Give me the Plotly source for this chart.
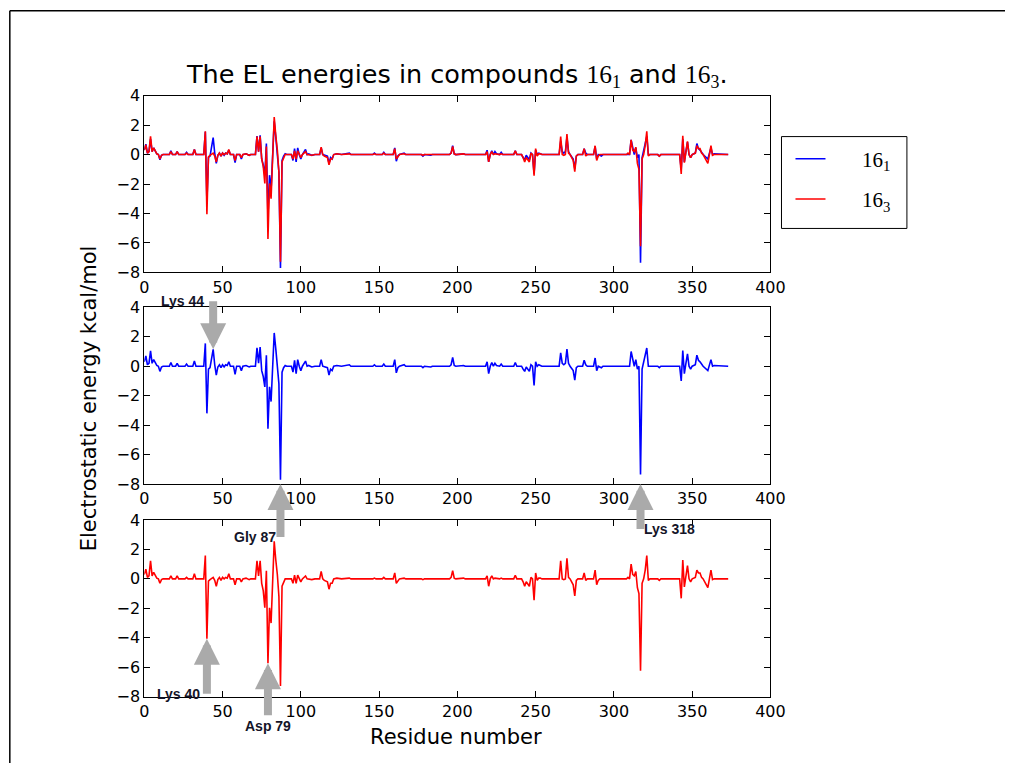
import plotly.graph_objects as go

# ---------------- data (residue index, EL energy kcal/mol) ----------------
SERIES_161 = [
    (0, 0.3), (1, 0.7), (2, 0.1), (3, 0.2), (4, 1.05), (5, 0.2), (6, 0.45), (7, 0.2), (8, 0.05), (9, 0.0),
    (10, -0.35), (11, -0.05), (12, 0.0), (16, 0.0), (17, 0.25), (18, 0.0), (20, 0.0), (21, 0.2), (22, 0.0),
    (26, 0.0), (27, 0.15), (28, 0.0), (31, 0.0), (32, 0.35), (33, 0.0), (38, 0.0), (39, 1.55), (40, -3.2),
    (41, -0.2), (42, -0.1), (44, 1.15), (45, 0.1), (46, -0.6), (47, -0.05), (48, 0.1), (49, -0.1), (50, 0.1),
    (51, -0.05), (52, 0.1), (53, 0.05), (54, 0.3), (55, 0.0), (57, 0.0), (58, -0.55), (59, 0.0), (61, 0.0),
    (62, -0.3), (63, 0.0), (65, 0.05), (67, -0.05), (68, 0.0), (71, 0.0), (72, 1.25), (73, 0.2), (74, 1.3),
    (75, -0.3), (76, -0.7), (77, -1.4), (78, 0.75), (79, -4.25), (80, -1.4), (81, -2.4), (82, -0.1),
    (83, 2.26), (84, 1.2), (85, 0.2), (86, -1.2), (87, -7.7), (88, -0.4), (89, -0.1), (90, 0.05), (91, 0.0),
    (94, 0.0), (95, -0.4), (96, 0.4), (97, -0.5), (98, 0.45), (99, 0.0), (100, -0.3), (101, 0.0), (103, 0.35),
    (104, 0.0), (105, 0.05), (107, -0.05), (109, 0.0), (112, 0.0), (113, 0.45), (114, 0.0), (115, -0.05),
    (117, -0.1), (118, -0.6), (119, -0.2), (120, -0.3), (121, 0.0), (123, 0.05), (126, 0.0), (131, 0.1),
    (132, 0.0), (146, 0.0), (147, 0.1), (148, 0.0), (152, 0.0), (153, 0.15), (154, 0.0), (159, 0.0),
    (160, 0.45), (161, -0.45), (162, -0.1), (163, 0.0), (166, 0.1), (167, 0.0), (177, 0.0), (178, -0.1),
    (179, 0.0), (183, -0.05), (184, 0.0), (195, 0.0), (196, 0.1), (197, 0.6), (198, 0.05), (199, 0.0),
    (204, 0.05), (205, 0.0), (218, 0.0), (219, 0.3), (220, -0.5), (221, 0.0), (222, 0.25), (223, 0.0),
    (224, 0.2), (225, 0.05), (227, 0.0), (228, 0.15), (229, 0.0), (236, 0.0), (237, 0.25), (238, 0.0),
    (241, 0.0), (242, -0.2), (243, -0.35), (244, -0.05), (245, -0.2), (246, -0.35), (247, 0.1), (248, 0.0),
    (249, -1.3), (250, 0.3), (251, 0.0), (252, 0.1), (253, 0.05), (254, 0.0), (264, 0.0), (265, 0.0),
    (266, 0.9), (267, 0.2), (268, 0.1), (269, 0.2), (270, 1.17), (271, 0.2), (272, 0.0), (273, -0.2),
    (274, -0.3), (275, -0.95), (276, -0.1), (277, 0.0), (280, 0.0), (281, 0.4), (282, 0.1), (283, 0.0),
    (287, 0.0), (288, 0.56), (289, -0.3), (290, 0.0), (292, -0.1), (293, 0.0), (310, 0.0), (311, 1.0),
    (312, 0.4), (313, 0.0), (314, 0.45), (315, -0.2), (316, 0.0), (317, -7.35), (318, -0.2), (319, 0.3),
    (320, 0.6), (321, 1.24), (322, 0.0), (328, 0.0), (329, -0.1), (330, 0.0), (342, 0.0), (343, -1.0),
    (344, 1.06), (345, -0.5), (346, 0.2), (347, 0.84), (348, 0.0), (349, -0.2), (350, 0.0), (352, 0.1),
    (353, 0.75), (354, 0.4), (355, 0.3), (356, 0.1), (357, 0.0), (360, -0.3), (361, 0.0), (362, 0.45),
    (363, 0.0), (364, 0.05), (373, 0.0),
]

SERIES_163 = [
    (0, 0.3), (1, 0.66), (2, 0.1), (3, 0.2), (4, 1.23), (5, 0.2), (6, 0.45), (7, 0.2), (8, 0.05), (9, 0.0),
    (10, -0.3), (11, -0.05), (12, 0.0), (16, 0.0), (17, 0.2), (18, 0.0), (20, 0.0), (21, 0.2), (22, 0.0),
    (26, 0.0), (27, 0.1), (28, 0.0), (31, 0.0), (32, 0.35), (33, 0.0), (38, 0.0), (39, 1.58), (40, -4.06),
    (41, -0.15), (42, -0.05), (44, 0.1), (45, -0.1), (46, -0.5), (47, -0.05), (48, 0.1), (49, -0.1),
    (50, 0.1), (51, 0.0), (52, 0.1), (53, 0.05), (54, 0.35), (55, 0.0), (57, 0.0), (58, -0.4), (59, 0.0),
    (61, 0.0), (62, -0.2), (63, 0.0), (65, 0.05), (67, -0.05), (68, 0.0), (71, 0.0), (72, 1.23), (73, 0.2),
    (74, 1.23), (75, -0.3), (76, -0.8), (77, -1.96), (78, 0.55), (79, -5.73), (80, -1.96), (81, -3.0),
    (82, -0.1), (83, 2.55), (84, 1.3), (85, 0.3), (86, -1.2), (87, -7.28), (88, -0.5), (89, -0.2), (90, 0.0),
    (94, 0.0), (95, -0.3), (96, 0.25), (97, -0.3), (98, 0.25), (99, 0.0), (100, -0.2), (101, 0.0), (103, 0.2),
    (104, 0.0), (107, -0.05), (109, 0.0), (112, 0.0), (113, 0.5), (114, 0.0), (115, -0.1), (117, -0.2),
    (118, -0.7), (119, -0.3), (120, -0.3), (121, 0.0), (123, 0.05), (126, 0.0), (131, 0.05), (132, 0.0),
    (146, 0.0), (147, 0.05), (148, 0.0), (152, 0.0), (153, 0.1), (154, 0.0), (159, 0.0), (160, 0.4),
    (161, -0.3), (162, -0.1), (163, 0.0), (166, 0.05), (167, 0.0), (177, 0.0), (178, -0.05), (179, 0.0),
    (195, 0.0), (196, 0.1), (197, 0.55), (198, 0.05), (199, 0.0), (204, 0.05), (205, 0.0), (218, 0.0),
    (219, 0.2), (220, -0.5), (221, 0.0), (222, 0.2), (223, 0.0), (224, 0.05), (227, 0.0), (228, 0.05),
    (229, 0.0), (236, 0.0), (237, 0.25), (238, 0.0), (241, 0.0), (242, -0.2), (243, -0.5), (244, -0.2),
    (245, -0.4), (246, -0.5), (247, 0.1), (248, 0.0), (249, -1.44), (250, 0.4), (251, -0.1), (252, 0.05),
    (253, 0.05), (254, 0.0), (264, 0.0), (265, 0.0), (266, 1.23), (267, 0.0), (268, -0.05), (269, 0.0),
    (270, 1.39), (271, 0.1), (272, 0.0), (273, -0.2), (274, -0.4), (275, -1.16), (276, -0.1), (277, 0.0),
    (280, 0.0), (281, 0.4), (282, -0.1), (283, 0.0), (287, 0.0), (288, 0.6), (289, -0.4), (290, -0.1),
    (291, 0.0), (308, 0.0), (309, 0.1), (310, 0.0), (311, 1.0), (312, 0.3), (313, 0.2), (314, 0.5),
    (315, -0.6), (316, -1.0), (317, -6.23), (318, -0.3), (319, 0.0), (320, 0.6), (321, 1.58), (322, -0.1),
    (323, 0.0), (328, 0.0), (329, -0.1), (330, 0.0), (342, 0.0), (343, -1.32), (344, 1.28), (345, -0.55),
    (346, 0.1), (347, 0.9), (348, 0.0), (349, -0.2), (350, 0.0), (352, 0.1), (353, 0.6), (354, 0.4),
    (355, 0.4), (356, 0.1), (357, 0.0), (360, -0.6), (361, 0.0), (362, 0.6), (363, -0.05), (364, 0.0),
    (373, 0.0),
]

X_TICKS = [0, 50, 100, 150, 200, 250, 300, 350, 400]
Y_TICKS = [-8, -6, -4, -2, 0, 2, 4]

# annotated residues: (label, residue index, panel, series key, arrow kind)
MARKS = [
    ("Lys 44", 44, 2, "161", "down"),
    ("Gly 87", 87, 2, "161", "up_axis"),
    ("Lys 318", 317, 2, "161", "up_axis"),
    ("Lys 40", 40, 3, "163", "up"),
    ("Asp 79", 79, 3, "163", "up"),
]

res_161 = [p[0] for p in SERIES_161]
e_161 = [p[1] for p in SERIES_161]
res_163 = [p[0] for p in SERIES_163]
e_163 = [p[1] for p in SERIES_163]
lookup = {"161": dict(SERIES_161), "163": dict(SERIES_163)}

# ---------------- layout helpers ----------------
# The page shows the figure slightly inset and scaled; positions below are given in
# screen pixels of the target picture and converted to paper fractions.
W, H = 1020, 773
OX, OY, S = 5.2, 8.2, 0.977


def px(x):
    return ((x - OX) / S) / W


def py(y):
    return 1 - ((y - OY) / S) / H


X_DOM = [px(144), px(768)]
PANELS = [(95, 272), (307, 484), (520, 697)]

BLUE = "#0000ff"
RED = "#ff0000"
TICKFONT = dict(family="DejaVu Sans", size=16, color="black")
LABELFONT = dict(family="DejaVu Sans", size=21, color="black")
NB = "\u00a0"

fig = go.Figure()
fig.add_trace(go.Scatter(x=res_161, y=e_161, mode="lines", line=dict(color=BLUE, width=1.6),
                         name=NB * 6 + "16<sub>1</sub>", legendgroup="a", xaxis="x", yaxis="y"))
fig.add_trace(go.Scatter(x=res_163, y=e_163, mode="lines", line=dict(color=RED, width=1.6),
                         name=NB * 6 + "16<sub>3</sub>", legendgroup="b", xaxis="x", yaxis="y"))
fig.add_trace(go.Scatter(x=res_161, y=e_161, mode="lines", line=dict(color=BLUE, width=1.6),
                         showlegend=False, legendgroup="a", xaxis="x2", yaxis="y2"))
fig.add_trace(go.Scatter(x=res_163, y=e_163, mode="lines", line=dict(color=RED, width=1.6),
                         showlegend=False, legendgroup="b", xaxis="x3", yaxis="y3"))

axis_common = dict(ticks="inside", ticklen=6, tickcolor="black", tickwidth=1,
                   showline=True, linecolor="black", linewidth=1, mirror="ticks",
                   showgrid=False, zeroline=False, tickfont=TICKFONT)

layout_axes = {}
for i, (top, bot) in enumerate(PANELS, start=1):
    sfx = "" if i == 1 else str(i)
    layout_axes["xaxis" + sfx] = dict(axis_common, domain=X_DOM, range=[0, 400], tickvals=X_TICKS,
                                      anchor="y" + sfx)
    layout_axes["yaxis" + sfx] = dict(axis_common, domain=[py(bot), py(top)], range=[-8, 4],
                                      tickvals=Y_TICKS, anchor="x" + sfx)

CENTER = dict(xref="paper", yref="paper", showarrow=False, xanchor="center", yanchor="middle")
annotations = [
    dict(CENTER, x=px(456), y=py(75),
         text=("The EL energies in compounds "
               "<span style='font-family:Liberation Serif'>16<sub>1</sub></span> and "
               "<span style='font-family:Liberation Serif'>16<sub>3</sub></span>."),
         font=dict(family="DejaVu Sans", size=25.5, color="black")),
    dict(CENTER, x=px(455), y=py(737), text="Residue number", font=LABELFONT),
    dict(CENTER, x=px(89), y=py(398), textangle=-90, text="Electrostatic energy kcal/mol", font=LABELFONT),
]

# arrow tail offset (px) and where the label sits relative to the tail
TAIL = {"Lys 44": -48, "Gly 87": 53, "Lys 318": 45, "Lys 40": 55, "Asp 79": 52}
ANCHOR = {"Lys 44": ("right", "middle", 8), "Gly 87": ("right", "middle", 3),
          "Lys 318": ("left", "middle", 2), "Lys 40": ("right", "middle", 6),
          "Asp 79": ("center", "top", 2)}

for label, res, panel, key, kind in MARKS:
    sfx = "" if panel == 1 else str(panel)
    tip_y = -8 if kind == "up_axis" else lookup[key][res]
    xa, ya, pad = ANCHOR[label]
    annotations.append(dict(
        x=res, y=tip_y, xref="x" + sfx, yref="y" + sfx, ax=0, ay=TAIL[label], axref="pixel", ayref="pixel",
        showarrow=True, arrowhead=2, arrowsize=0.65, arrowwidth=8, arrowcolor="#aaaaaa",
        standoff=0, startstandoff=0, xanchor=xa, yanchor=ya, borderpad=pad,
        text="<b>" + label + "</b>",
        font=dict(family="Liberation Sans", size=14, color="#141428")))

shapes = [
    # figure frame (top and left edges visible)
    dict(type="line", xref="paper", yref="paper", x0=px(10), y0=py(10), x1=1.0, y1=py(10),
         line=dict(color="black", width=1.5)),
    dict(type="line", xref="paper", yref="paper", x0=px(10), y0=py(10), x1=px(10), y1=0.0,
         line=dict(color="black", width=1.5)),
    # legend frame
    dict(type="rect", xref="paper", yref="paper", x0=px(779), y0=py(228), x1=px(904), y1=py(136),
         line=dict(color="black", width=1), fillcolor="rgba(0,0,0,0)"),
]

fig.update_layout(
    width=W, height=H, margin=dict(l=0, r=0, t=0, b=0),
    paper_bgcolor="white", plot_bgcolor="white",
    showlegend=True,
    legend=dict(x=px(779), y=py(138), xanchor="left", yanchor="top",
                borderwidth=0, bgcolor="rgba(0,0,0,0)", indentation=9,
                font=dict(family="Liberation Serif", size=21, color="black"),
                traceorder="grouped", tracegroupgap=10),
    annotations=annotations, shapes=shapes,
    **layout_axes,
)

fig.write_html("out.html")
